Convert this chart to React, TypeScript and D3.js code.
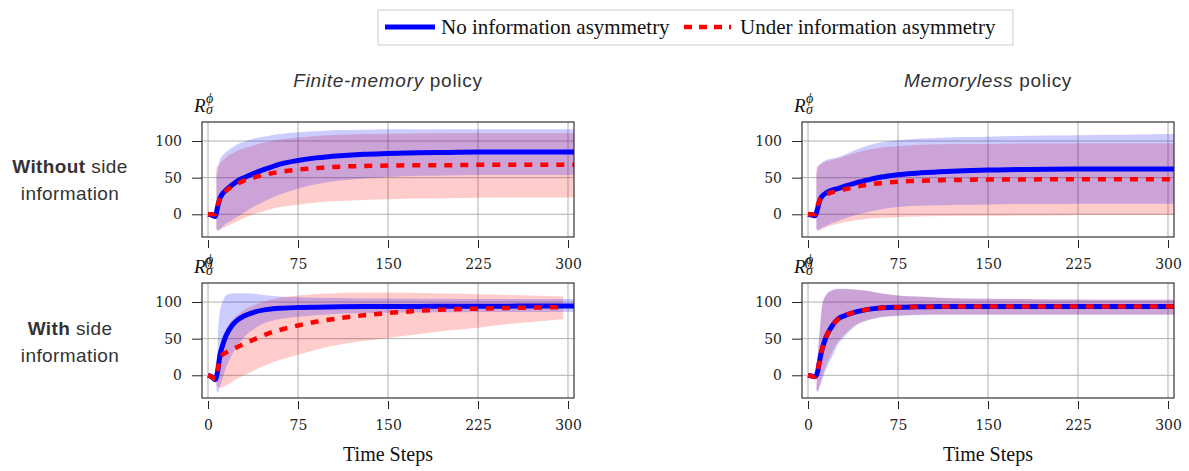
import React, { useEffect, useRef } from 'react';
import * as d3 from 'd3';

// time steps for the mean curves and for the std bands
const T = [0, 3, 6, 8, 10, 12, 15, 20, 25, 30, 40, 50, 60, 75, 90, 110, 130, 150, 175, 200, 225, 250, 275, 300, 310];
const TB = [7, 8, 10, 12, 15, 20, 25, 30, 40, 50, 60, 75, 90, 110, 130, 150, 175, 200, 225, 250, 275, 300, 310];
// the red run of "finite-memory, with side information" stops earlier
const T_RED_SIDE = [0, 3, 6, 8, 10, 12, 15, 20, 25, 30, 40, 50, 60, 75, 90, 110, 130, 150, 175, 200, 225, 250, 275, 296];
const TB_RED_SIDE = [7, 8, 10, 12, 15, 20, 25, 30, 40, 50, 60, 75, 90, 110, 130, 150, 175, 200, 225, 250, 275, 296];

const X_TICKS = [0, 75, 150, 225, 300];
const Y_TICKS = [0, 50, 100];

// Finite-memory, without side information
const fmNoSideBlue = [0, -1, -3, 10, 22, 28, 33, 40, 46, 50, 57, 63, 68.5, 73.5, 77, 80, 82, 83, 84, 84.5, 85, 85, 85, 85, 85];
const fmNoSideRed = [0, 0, 0, 12, 22, 27, 32, 38, 42, 46, 51, 55, 58, 61, 63, 65, 66, 66.5, 67, 67, 67.5, 67.5, 67.5, 67.5, 67.5];
const fmNoSideBlueHi = [55, 60, 75, 80, 85, 91, 96, 99, 104, 107, 109.5, 112, 113.5, 115, 115.5, 116, 116, 116, 116, 116, 116, 116, 116];
const fmNoSideBlueLo = [-20, -22, -20, -17, -13, -8, -3, 2, 12, 20, 27, 35, 41, 46, 49, 51, 52.5, 53, 53.5, 53.5, 53.5, 53.5, 53.5];
const fmNoSideRedHi = [64, 66, 70, 73, 78, 83, 87, 90, 95, 99, 102, 105, 107, 108.5, 109.5, 110, 110.5, 111, 111, 111, 111, 111, 111];
const fmNoSideRedLo = [-18, -22, -21, -19, -17, -13, -9, -5, 1, 6, 10, 13, 16, 18, 19.5, 20.5, 21.5, 22, 22.5, 23, 23, 23, 23];

// Memoryless, without side information
const mlNoSideBlue = [0, -1, -2, 8, 20, 25, 29, 33, 35, 38, 43, 47, 50.5, 54, 56, 58, 59.5, 60.5, 61, 61.5, 61.8, 62, 62, 62, 62];
const mlNoSideRed = [0, 0, 0, 12, 20, 24, 27, 30, 32, 34, 37.5, 40.5, 42.5, 44.5, 45.5, 46.5, 47, 47.5, 47.5, 47.8, 48, 48, 48, 48, 48];
const mlNoSideBlueHi = [55, 62, 68, 71, 74, 76, 78, 81, 88, 94, 98, 101, 103, 104.5, 105.5, 106, 107, 107.5, 108, 108.5, 109, 109.5, 109.5];
const mlNoSideBlueLo = [-20, -22, -20, -18, -16, -12, -9, -6, -1, 3, 6.5, 10, 11.5, 12.5, 13, 13.5, 14, 14, 14.5, 14.5, 14.5, 14.5, 14.5];
const mlNoSideRedHi = [64, 66, 68, 70, 72, 74, 76, 79, 84, 88, 91, 93, 94.5, 95.5, 96, 96, 96.5, 96.5, 97, 97, 97, 97, 97];
const mlNoSideRedLo = [-18, -22, -21, -20, -18, -15, -13, -11, -8, -6, -5, -4, -3, -2.5, -2, -2, -1.5, -1.5, -1, -1, -1, -1, -1];

// Finite-memory, with side information
const fmSideBlue = [0, -2, -6, 5, 28, 40, 54, 68, 76, 81, 87, 90, 91.5, 92.5, 93, 93.5, 93.8, 94, 94, 94.2, 94.3, 94.4, 94.5, 94.5, 94.5];
const fmSideRed = [0, -2, -5, 8, 22, 28, 31, 35, 39, 43, 50, 57, 62, 68, 73, 78, 82, 85, 88, 90, 91, 92, 92.5, 93];
const fmSideBlueHi = [-20, 40, 88, 100, 109, 111.5, 112, 112, 111, 109, 107.5, 106.5, 106, 105.5, 105, 105, 104.5, 104.5, 104, 104, 104, 104, 104];
const fmSideBlueLo = [-20, -24, -15, -5, 10, 28, 42, 52, 65, 73, 77, 80, 82, 84, 85, 85.5, 86, 86, 86.5, 86.5, 86.5, 86.5, 86.5];
const fmSideRedHi = [-10, 10, 35, 50, 62, 75, 83, 89, 97, 102, 106, 109, 111, 112.5, 113, 113, 112.5, 111.5, 110.5, 109.5, 108.5, 107.5];
const fmSideRedLo = [-14, -16, -17, -16, -14, -9, -4, 0, 8, 15, 21, 28, 35, 42, 47, 51, 56, 61, 65, 70, 73.5, 77];

// Memoryless, with side information
const mlSideBlue = [0, -1, -2, 5, 23, 37, 52, 67, 77, 81, 86.5, 90, 92, 93, 93.5, 94, 94, 94, 94, 94, 94, 94, 94, 94, 94];
const mlSideRed = [0, -1, -2, 6, 24, 37, 52, 67, 76.5, 81, 86.5, 90, 92, 93, 93.5, 93.8, 94, 94, 94, 94, 94, 94, 94, 94, 94];
const mlSideBlueHi = [-20, 20, 65, 98, 110, 116.5, 118, 118, 117, 115.5, 112, 109, 107.5, 106, 105, 104.5, 104, 103.5, 103.5, 103, 103, 103, 103];
const mlSideBlueLo = [-20, -23, -15, -5, 8, 25, 42, 52, 68, 75, 79, 81, 82, 82.5, 82.5, 82.5, 82.5, 82.5, 82.5, 82.5, 82.5, 82.5, 82.5];
const mlSideRedHi = [-18, 22, 64, 96, 109, 115.5, 117.5, 117.5, 116.5, 115, 112, 109, 107.5, 106, 105, 104.5, 104, 103.5, 103.5, 103, 103, 103, 103];
const mlSideRedLo = [-18, -21, -12, -1, 13, 31, 46, 55, 69, 75.5, 79.5, 81.5, 82.5, 83, 83, 83, 83, 83, 83, 83, 83, 83, 83];

const zipLine = (t, v) => t.map((d, i) => ({ t: d, v: v[i] }));
const zipBand = (t, lo, hi) => t.map((d, i) => ({ t: d, lo: lo[i], hi: hi[i] }));

const panels = [
  {
    col: 0, row: 0,
    blue: zipLine(T, fmNoSideBlue), red: zipLine(T, fmNoSideRed),
    blueBand: zipBand(TB, fmNoSideBlueLo, fmNoSideBlueHi), redBand: zipBand(TB, fmNoSideRedLo, fmNoSideRedHi),
  },
  {
    col: 1, row: 0,
    blue: zipLine(T, mlNoSideBlue), red: zipLine(T, mlNoSideRed),
    blueBand: zipBand(TB, mlNoSideBlueLo, mlNoSideBlueHi), redBand: zipBand(TB, mlNoSideRedLo, mlNoSideRedHi),
  },
  {
    col: 0, row: 1,
    blue: zipLine(T, fmSideBlue), red: zipLine(T_RED_SIDE, fmSideRed),
    blueBand: zipBand(TB, fmSideBlueLo, fmSideBlueHi), redBand: zipBand(TB_RED_SIDE, fmSideRedLo, fmSideRedHi),
  },
  {
    col: 1, row: 1,
    blue: zipLine(T, mlSideBlue), red: zipLine(T, mlSideRed),
    blueBand: zipBand(TB, mlSideBlueLo, mlSideBlueHi), redBand: zipBand(TB, mlSideRedLo, mlSideRedHi),
  },
];

const W = 1189;
const H = 471;
const COL_X = [202, 802];
const ROW_Y = [122, 283];
const PW = 372;
const PH = 115;
const SERIF = '"Liberation Serif", "Times New Roman", serif';
const TICK_FONT = '"DejaVu Serif", serif';
const SANS = '"Liberation Sans", Arial, sans-serif';

const App = () => {
  const ref = useRef(null);

  useEffect(() => {
    const svg = d3.select(ref.current);
    svg.selectAll('*').remove();
    svg.append('rect').attr('width', W).attr('height', H).attr('fill', '#fff');

    panels.forEach((p, i) => {
      const x0 = COL_X[p.col];
      const y0 = ROW_Y[p.row];
      const x = d3.scaleLinear().domain([-5, 305]).range([x0, x0 + PW]);
      const y = d3.scaleLinear().domain([-31, 126]).range([y0 + PH, y0]);
      const g = svg.append('g');

      g.append('clipPath').attr('id', `clip${i}`)
        .append('rect').attr('x', x0).attr('y', y0).attr('width', PW).attr('height', PH);

      // grid
      g.selectAll('.gx').data(X_TICKS).enter().append('line')
        .attr('x1', d => x(d)).attr('x2', d => x(d)).attr('y1', y0).attr('y2', y0 + PH)
        .attr('stroke', '#b0b0b0').attr('stroke-width', 1);
      g.selectAll('.gy').data(Y_TICKS).enter().append('line')
        .attr('x1', x0).attr('x2', x0 + PW).attr('y1', d => y(d)).attr('y2', d => y(d))
        .attr('stroke', '#b0b0b0').attr('stroke-width', 1);

      const plot = g.append('g').attr('clip-path', `url(#clip${i})`);
      const area = d3.area().x(d => x(d.t)).y0(d => y(d.lo)).y1(d => y(d.hi)).curve(d3.curveMonotoneX);
      const line = d3.line().x(d => x(d.t)).y(d => y(d.v)).curve(d3.curveMonotoneX);

      // red band under the blue one gives the lavender overlap
      plot.append('path').datum(p.redBand).attr('d', area).attr('fill', '#ff0000').attr('fill-opacity', 0.2);
      plot.append('path').datum(p.blueBand).attr('d', area).attr('fill', '#0000ff').attr('fill-opacity', 0.2);
      plot.append('path').datum(p.blue).attr('d', line).attr('fill', 'none')
        .attr('stroke', '#0000ff').attr('stroke-width', 5);
      plot.append('path').datum(p.red).attr('d', line).attr('fill', 'none')
        .attr('stroke', '#ff0000').attr('stroke-width', 4.5).attr('stroke-dasharray', '8 8');

      g.append('rect').attr('x', x0).attr('y', y0).attr('width', PW).attr('height', PH)
        .attr('fill', 'none').attr('stroke', '#222').attr('stroke-width', 1.1);

      // axes, offset from the frame
      const ya = g.append('g').attr('transform', `translate(${x0},0)`)
        .call(d3.axisLeft(y).tickValues(Y_TICKS).tickSize(10).tickPadding(10).tickFormat(d3.format('d')));
      const xa = g.append('g').attr('transform', `translate(0,${y0 + PH + 3})`)
        .call(d3.axisBottom(x).tickValues(X_TICKS).tickSize(8).tickPadding(11).tickFormat(d3.format('d')));
      [ya, xa].forEach(a => {
        a.select('.domain').remove();
        a.attr('font-family', TICK_FONT).attr('font-size', 14);
        a.selectAll('line').attr('stroke', '#222');
        a.selectAll('text').attr('fill', '#222');
      });

      // R^phi_sigma label
      const lx = x0 - 8;
      const ly = y0 - 10;
      g.append('text').attr('x', lx).attr('y', ly).attr('font-family', SERIF).attr('font-style', 'italic')
        .attr('font-size', 19).attr('fill', '#111').text('R');
      g.append('text').attr('x', lx + 12).attr('y', ly - 9).attr('font-family', SERIF).attr('font-style', 'italic')
        .attr('font-size', 14).attr('fill', '#111').text('ϕ');
      g.append('text').attr('x', lx + 12).attr('y', ly + 2).attr('font-family', SERIF).attr('font-style', 'italic')
        .attr('font-size', 14).attr('fill', '#111').text('σ');

      if (p.row === 1) {
        g.append('text').attr('x', x0 + PW / 2).attr('y', 461).attr('text-anchor', 'middle')
          .attr('font-family', SERIF).attr('font-size', 20).attr('fill', '#111').text('Time Steps');
      }
    });

    // column titles
    const titles = [['Finite-memory', ' policy'], ['Memoryless', ' policy']];
    titles.forEach((tt, c) => {
      const t = svg.append('text').attr('x', COL_X[c] + PW / 2).attr('y', 87).attr('text-anchor', 'middle')
        .attr('font-family', SANS).attr('font-size', 19).attr('letter-spacing', 0.7).attr('fill', '#333');
      t.append('tspan').attr('font-style', 'italic').text(tt[0]);
      t.append('tspan').text(tt[1]);
    });

    // row labels
    const rows = [['Without', 173, 200], ['With', 335, 362]];
    rows.forEach(([word, b1, b2]) => {
      const t1 = svg.append('text').attr('x', 70).attr('y', b1).attr('text-anchor', 'middle')
        .attr('font-family', SANS).attr('font-size', 19).attr('letter-spacing', 0.4).attr('fill', '#333');
      t1.append('tspan').attr('font-weight', 'bold').text(word);
      t1.append('tspan').text(' side');
      svg.append('text').attr('x', 70).attr('y', b2).attr('text-anchor', 'middle')
        .attr('font-family', SANS).attr('font-size', 19).attr('letter-spacing', 0.4).attr('fill', '#333')
        .text('information');
    });

    // legend
    const lg = svg.append('g');
    lg.append('rect').attr('x', 378).attr('y', 10).attr('width', 635).attr('height', 35)
      .attr('fill', '#fff').attr('stroke', '#cccccc').attr('stroke-width', 1);
    lg.append('line').attr('x1', 385).attr('x2', 435).attr('y1', 27).attr('y2', 27)
      .attr('stroke', '#0000ff').attr('stroke-width', 5);
    lg.append('text').attr('x', 441).attr('y', 34).attr('font-family', SERIF).attr('font-size', 21)
      .attr('fill', '#111').text('No information asymmetry');
    lg.append('line').attr('x1', 684).attr('x2', 731).attr('y1', 27).attr('y2', 27)
      .attr('stroke', '#ff0000').attr('stroke-width', 4.5).attr('stroke-dasharray', '8 7');
    lg.append('text').attr('x', 740).attr('y', 34).attr('font-family', SERIF).attr('font-size', 21)
      .attr('fill', '#111').text('Under information asymmetry');
  }, []);

  return <svg ref={ref} width={W} height={H} style={{ position: 'absolute', left: 0, top: 0 }} />;
};

export default App;
